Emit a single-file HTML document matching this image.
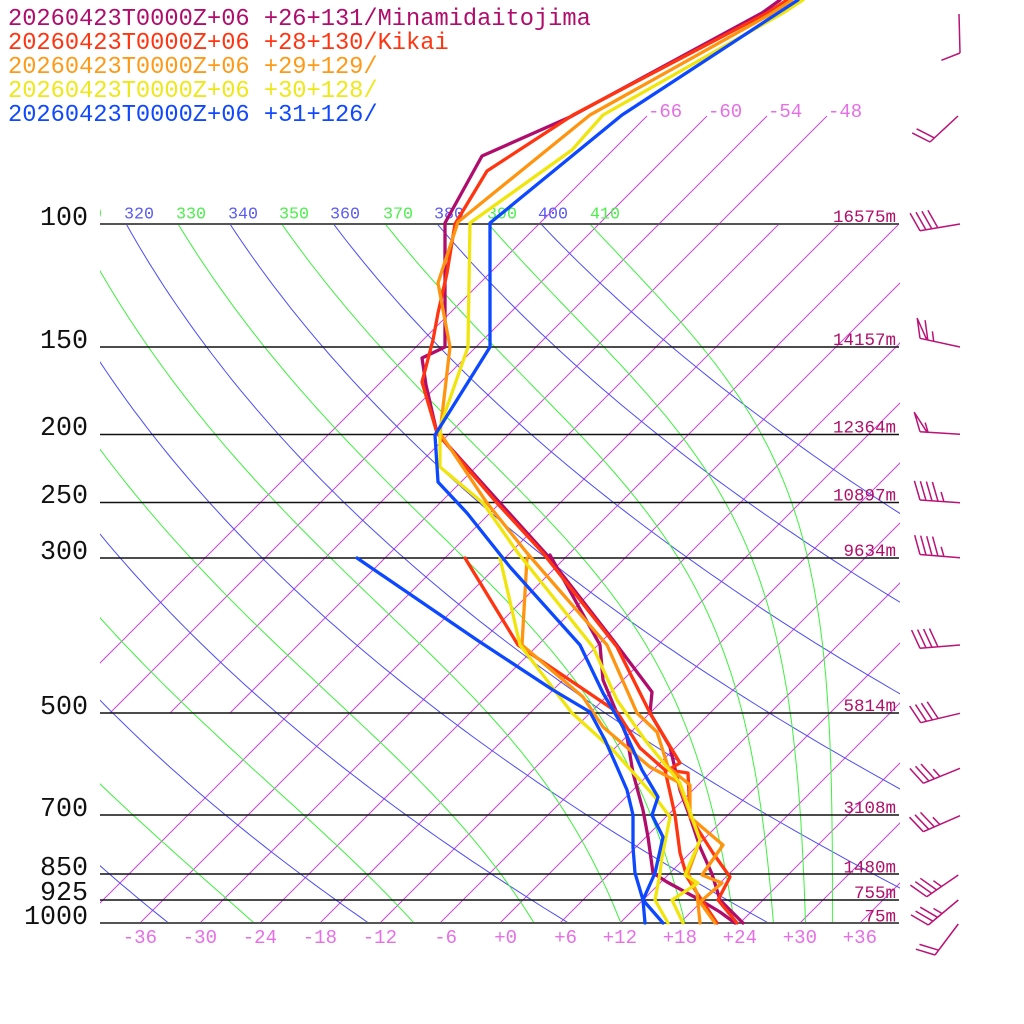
<!DOCTYPE html>
<html>
<head>
<meta charset="utf-8">
<style>
html,body{margin:0;padding:0;background:#fff;}
svg{display:block;}
text{font-family:"Liberation Mono","DejaVu Sans Mono",monospace;}
</style>
</head>
<body>
<svg id="chart" xmlns="http://www.w3.org/2000/svg" width="1024" height="1024" viewBox="0 0 1024 1024">
<rect x="0" y="0" width="1024" height="1024" fill="#fff"/>
<defs>
  <clipPath id="cMain"><rect x="100" y="224" width="800" height="699"/></clipPath>
  <clipPath id="cUpper"><rect x="100" y="110" width="800" height="813"/></clipPath>
  <clipPath id="cLab"><rect x="100" y="195" width="800" height="40"/></clipPath>
</defs>

<g id="isoUpper" clip-path="url(#cUpper)" stroke="#d044dc" stroke-width="1" fill="none"></g>
<g id="isoLower" clip-path="url(#cMain)" stroke="#d044dc" stroke-width="1" fill="none"></g>
<g id="dry" clip-path="url(#cMain)" stroke="#4c4cf4" stroke-width="1" fill="none"></g>
<g id="moist" clip-path="url(#cMain)" stroke="#3ef03e" stroke-width="1" fill="none"></g>

<!-- pressure lines -->
<g fill="none">
  <line x1="100" y1="224" x2="899" y2="224" stroke="#555" stroke-width="2"/>
  <line x1="100" y1="347" x2="899" y2="347" stroke="#111" stroke-width="1.5"/>
  <line x1="100" y1="434.5" x2="899" y2="434.5" stroke="#111" stroke-width="1.5"/>
  <line x1="100" y1="502.5" x2="899" y2="502.5" stroke="#111" stroke-width="1.5"/>
  <line x1="100" y1="558" x2="899" y2="558" stroke="#111" stroke-width="1.5"/>
  <line x1="100" y1="713" x2="899" y2="713" stroke="#111" stroke-width="1.5"/>
  <line x1="100" y1="815" x2="899" y2="815" stroke="#111" stroke-width="1.5"/>
  <line x1="100" y1="874" x2="899" y2="874" stroke="#111" stroke-width="1.5"/>
  <line x1="100" y1="900" x2="899" y2="900" stroke="#111" stroke-width="1.5"/>
  <line x1="100" y1="923" x2="899" y2="923" stroke="#555" stroke-width="2"/>
</g>

<!-- pressure labels -->
<g font-size="26.7" fill="#111" text-anchor="end">
  <text x="88" y="225">100</text>
  <text x="88" y="348">150</text>
  <text x="88" y="435">200</text>
  <text x="88" y="503">250</text>
  <text x="88" y="559">300</text>
  <text x="88" y="714">500</text>
  <text x="88" y="816">700</text>
  <text x="88" y="875">850</text>
  <text x="88" y="900">925</text>
  <text x="88" y="924">1000</text>
</g>

<!-- adiabat labels -->
<g font-size="16.7" clip-path="url(#cLab)">
  <text x="72" y="218.5" fill="#4cf04c">310</text>
  <text x="124" y="218.5" fill="#5a5af4">320</text>
  <text x="176" y="218.5" fill="#4cf04c">330</text>
  <text x="228" y="218.5" fill="#5a5af4">340</text>
  <text x="279" y="218.5" fill="#4cf04c">350</text>
  <text x="330" y="218.5" fill="#5a5af4">360</text>
  <text x="383" y="218.5" fill="#4cf04c">370</text>
  <text x="434" y="218.5" fill="#5a5af4">380</text>
  <text x="487" y="218.5" fill="#4cf04c">390</text>
  <text x="538" y="218.5" fill="#5a5af4">400</text>
  <text x="590" y="218.5" fill="#4cf04c">410</text>
</g>

<!-- isotherm labels top -->
<g font-size="19" fill="#e66ee6">
  <text x="648" y="117">-66</text>
  <text x="708" y="117">-60</text>
  <text x="768" y="117">-54</text>
  <text x="828" y="117">-48</text>
</g>

<!-- temperature axis labels -->
<g font-size="19" fill="#e66ee6" text-anchor="end">
  <text x="157" y="943">-36</text>
  <text x="217" y="943">-30</text>
  <text x="277" y="943">-24</text>
  <text x="337" y="943">-18</text>
  <text x="397" y="943">-12</text>
  <text x="457" y="943">-6</text>
  <text x="517" y="943">+0</text>
  <text x="577" y="943">+6</text>
  <text x="637" y="943">+12</text>
  <text x="697" y="943">+18</text>
  <text x="757" y="943">+24</text>
  <text x="817" y="943">+30</text>
  <text x="877" y="943">+36</text>
</g>

<!-- height labels -->
<g font-size="17.5" fill="#b0106a" text-anchor="end">
  <text x="896" y="222">16575m</text>
  <text x="896" y="345">14157m</text>
  <text x="896" y="432.5">12364m</text>
  <text x="896" y="500.5">10897m</text>
  <text x="896" y="556">9634m</text>
  <text x="896" y="711">5814m</text>
  <text x="896" y="813">3108m</text>
  <text x="896" y="872.5">1480m</text>
  <text x="896" y="898">755m</text>
  <text x="896" y="921.5">75m</text>
</g>

<!-- profiles -->
<g fill="none" stroke-width="3.3" stroke-linejoin="round" stroke-linecap="round">
  <polyline stroke="#b00c6c" points="780,0 762,13 570,117 482,156 445,223 445,347 422,358 426,385 437,433 500,503 547,555 613,640 652,692 650,713 670,747 680,790 690,817 700,847 712,874 720,900 743,923"/>
  <polyline stroke="#b00c6c" points="550,555 600,645 603,680 627,737 633,773 643,810 648,837 653,873 667,882 700,900 720,912 735,923"/>
  <polyline stroke="#ff3410" points="787,0 767,13 573,115 487,171 455,224 447,273 438,313 433,340 422,382 437,433 497,503 543,553 617,647 650,713 680,763 668,770 688,773 690,817 713,853 730,877 718,900 737,923"/>
  <polyline stroke="#ff3410" points="465,558 518,645 617,712 640,748 665,770 675,815 680,853 687,877 697,893 717,923"/>
  <polyline stroke="#ff9410" points="792,0 769,15 590,115 458,222 438,283 450,347 440,433 487,503 527,553 607,645 637,713 657,732 668,767 690,785 690,817 723,845 702,875 722,883 700,902 715,923"/>
  <polyline stroke="#ff9410" points="527,558 522,645 583,697 603,727 650,767 678,782 700,840 688,873 697,893 700,923"/>
  <polyline stroke="#f0e60e" points="803,0 783,13 603,115 572,150 470,223 468,347 440,427 440,467 483,503 518,553 593,647 617,700 645,740 680,783 700,840 685,875 698,883 672,900 683,923"/>
  <polyline stroke="#f0e60e" points="500,558 520,645 572,713 613,750 655,797 670,817 662,857 660,873 655,900 668,923"/>
  <polyline stroke="#0c48ff" points="798,0 778,13 622,115 490,223 490,347 435,435 438,482 467,513 510,567 580,645 603,693 623,727 642,770 658,797 652,815 663,837 655,873 643,900 663,923"/>
  <polyline stroke="#0c48ff" points="357,558 477,640 553,690 590,712 605,740 617,767 627,790 633,815 633,847 635,873 643,900 645,923"/>
</g>

<g id="barbs" fill="none" stroke="#ba1276" stroke-width="1.5" stroke-linejoin="round"></g>

<!-- legend -->
<g font-size="23.7">
  <text x="8" y="25" fill="#b00c6c">20260423T0000Z+06 +26+131/Minamidaitojima</text>
  <text x="8" y="49" fill="#ff3410">20260423T0000Z+06 +28+130/Kikai</text>
  <text x="8" y="73" fill="#ff9a18">20260423T0000Z+06 +29+129/</text>
  <text x="8" y="97" fill="#eee81a">20260423T0000Z+06 +30+128/</text>
  <text x="8" y="121" fill="#1048ff">20260423T0000Z+06 +31+126/</text>
</g>
</svg>

<script>
(function(){
  var NS='http://www.w3.org/2000/svg';
  function Yp(p){return 923-303.6*Math.log(1000/p);}
  function Xt(T,y){return 500+10*T+(923-y);}
  function add(g,tag,attrs){var e=document.createElementNS(NS,tag);for(var k in attrs)e.setAttribute(k,attrs[k]);document.getElementById(g).appendChild(e);return e;}
  // isotherms
  for(var T=-66;T<=36;T+=6){
    if(T<=-48){
      add('isoUpper','line',{x1:Xt(T,713),y1:713,x2:Xt(T,116),y2:116});
    }else{
      add('isoLower','line',{x1:Xt(T,923),y1:923,x2:Xt(T,224),y2:224});
    }
  }
  var ps=[];var N=90;
  for(var i=0;i<=N;i++){ps.push(1000*Math.exp(-Math.log(10)*i/N));}
  // dry adiabats
  for(var th=240;th<=400;th+=20){
    var pts=[];
    for(var j=0;j<ps.length;j++){var p=ps[j];var t=th*Math.pow(p/1000,0.2854)-273.15;var y=Yp(p);pts.push(Xt(t,y).toFixed(1)+','+y.toFixed(1));}
    add('dry','polyline',{points:pts.join(' ')});
  }
  // moist adiabats (pseudo, Bolton theta-e)
  function es(Tc){return 6.112*Math.exp(17.67*Tc/(Tc+243.5));}
  function thetaE(TK,p){var e=es(TK-273.15);if(e>0.5*p)return 1e9;var r=0.622*e/(p-e);var rg=r*1000;var thd=TK*Math.pow(1000/p,0.2854*(1-0.00028*rg));return thd*Math.exp((3.376/TK-0.00254)*rg*(1+0.00081*rg));}
  function solveT(te,p){var lo=120,hi=340;for(var k=0;k<60;k++){var m=(lo+hi)/2;if(thetaE(m,p)>te)hi=m;else lo=m;}return (lo+hi)/2;}
  for(var te=250;te<=410;te+=20){
    var pts2=[];
    for(var j2=0;j2<ps.length;j2++){var p2=ps[j2];var tk=solveT(te,p2);var y2=Yp(p2);pts2.push(Xt(tk-273.15,y2).toFixed(1)+','+y2.toFixed(1));}
    add('moist','polyline',{points:pts2.join(' ')});
  }
  // wind barbs
  function barb(B,E,nP,nF,nH){
    var dx=E[0]-B[0],dy=E[1]-B[1];var L=Math.hypot(dx,dy);var u=[-dx/L,-dy/L];
    var a=Math.atan2(dy,dx)+70*Math.PI/180;var v=[Math.cos(a),Math.sin(a)];
    var d='M'+B[0]+','+B[1]+' L'+E[0]+','+E[1];
    var s=0;
    function pt(s){return [E[0]+s*u[0],E[1]+s*u[1]];}
    for(var i=0;i<nP;i++){var b1=pt(s),b2=pt(s+7);d+=' M'+b1[0].toFixed(1)+','+b1[1].toFixed(1)+' L'+(b1[0]+20*v[0]).toFixed(1)+','+(b1[1]+20*v[1]).toFixed(1)+' L'+b2[0].toFixed(1)+','+b2[1].toFixed(1);s+=8;}
    for(var i2=0;i2<nF;i2++){var b=pt(s);d+=' M'+b[0].toFixed(1)+','+b[1].toFixed(1)+' l'+(20*v[0]).toFixed(1)+','+(20*v[1]).toFixed(1);s+=6;}
    for(var i3=0;i3<nH;i3++){var bh=pt(s);d+=' M'+bh[0].toFixed(1)+','+bh[1].toFixed(1)+' l'+(10*v[0]).toFixed(1)+','+(10*v[1]).toFixed(1);s+=6;}
    add('barbs','path',{d:d});
  }
  barb([959,14],[960,53],0,1,0);
  barb([958,116],[930,142],0,2,0);
  barb([960,224],[920,230.7],0,4,0);
  barb([960,347],[920,338.3],1,1,1);
  barb([960,434.3],[920,431.7],1,0,1);
  barb([960,502.7],[920,500],0,4,1);
  barb([960,557.7],[920,554.5],0,4,1);
  barb([960,645],[920,648.3],0,4,0);
  barb([960,713.3],[920.7,722.7],0,4,0);
  barb([960,768.3],[923.3,783.3],0,3,1);
  barb([960,815.7],[923.3,831.7],0,3,1);
  barb([958.3,875],[926.7,896.7],0,3,1);
  barb([958.3,900],[928.3,925],0,3,1);
  barb([958.3,924],[935,955],0,2,0);
})();
</script>
</body>
</html>
